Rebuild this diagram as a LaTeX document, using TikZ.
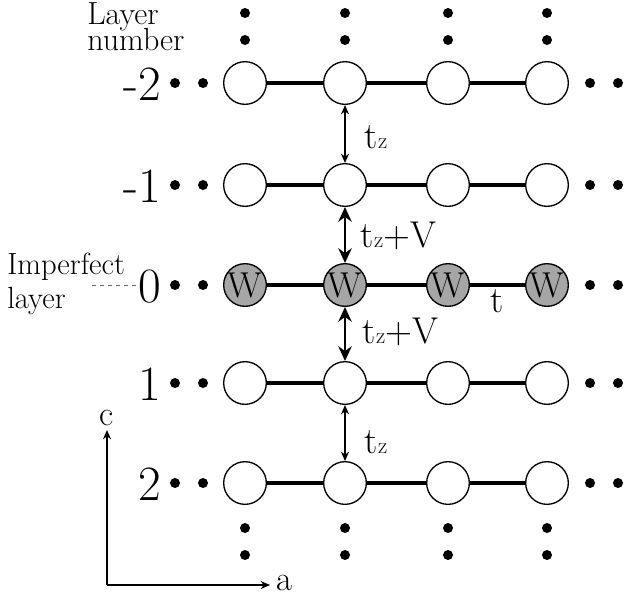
\documentclass[tikz,border=0pt]{standalone}
\usepackage{fontspec}
\usetikzlibrary{arrows.meta}
\newcommand{\tz}{t\kern0.5pt{\fontsize{17}{17}\selectfont z}}
\tikzset{
  site/.style={circle,draw,line width=1pt,minimum size=32pt,inner sep=0pt,fill=white},
  wsite/.style={site,fill=black!35,font=\fontsize{27}{27}\selectfont},
  bond/.style={line width=3pt},
  hop/.style={<->,>={Stealth[length=7pt,width=6pt]},line width=0.9pt},
  bighop/.style={<->,>={Stealth[length=11pt,width=10pt]},line width=2.2pt},
  lbl/.style={font=\fontsize{28}{28}\selectfont,inner sep=0pt},
  num/.style={font=\fontsize{37}{37}\selectfont,inner sep=0pt,anchor=base east},
  side/.style={inner sep=0pt,align=left,anchor=base west},
}
\begin{document}
\begin{tikzpicture}[x=0.75pt,y=-0.75pt]
  \useasboundingbox (0,0) rectangle (627,601);
  % lattice sites, rows -2..2
  \foreach \r/\y in {1/83,2/185,4/383,5/483}{
    \foreach \c/\x in {1/245,2/345,3/448,4/547}
      \node[site] (s\r\c) at (\x,\y) {};
  }
  \foreach \c/\x in {1/245,2/345,3/448,4/547}
    \node[wsite] (s3\c) at (\x,285) {W};
  \foreach \r in {1,...,5}{
    \draw[bond] (s\r1) -- (s\r2);
    \draw[bond] (s\r2) -- (s\r3);
    \draw[bond] (s\r3) -- (s\r4);
  }
  % dots
  \foreach \y in {83,185,285,383,483}{
    \fill (175,\y) circle[radius=5]; \fill (203,\y) circle[radius=5];
    \fill (590,\y) circle[radius=5]; \fill (618,\y) circle[radius=5];
  }
  \foreach \x in {245,345,448,547}{
    \fill (\x,13) circle[radius=5]; \fill (\x,40) circle[radius=5];
    \fill (\x,528) circle[radius=5]; \fill (\x,555) circle[radius=5];
  }
  % layer numbers
  \node[num] (n1) at (161,100) {-2};
  \node[num] (n2) at (161,202) {-1};
  \node[num] (n3) at (161,302) {0};
  \node[num] (n4) at (161,400) {1};
  \node[num] (n5) at (161,500) {2};
  \node[side,font={\fontsize{24}{19}\selectfont\lineskiplimit=-30pt}] (ln) at (87,50) {Layer\\number};
  \node[side,font={\fontsize{23}{25}\selectfont\lineskiplimit=-30pt}] (il) at (7,308) {Imperfect\\layer};
  \draw[black!60,dashed,line width=0.6pt] (92,285) -- (n3.west |- 0,285);
  % hoppings
  \draw[hop] (s12) -- (s22);
  \draw[bighop] (s22) -- (s32);
  \draw[bighop] (s32) -- (s42);
  \draw[hop] (s42) -- (s52);
  \node[lbl,anchor=base west] (h1) at (364,148) {\tz};
  \node[lbl,anchor=base west] (h2) at (360,247) {\tz+V};
  \node[lbl,anchor=base west] (h3) at (362,343) {\tz+V};
  \node[lbl,anchor=base west] (h4) at (364,453) {\tz};
  \node[lbl,anchor=base] (t) at (497,312) {t};
  % axes
  \coordinate (o) at (107,585);
  \coordinate (cax) at (107,430);
  \coordinate (aax) at (270,585);
  \draw[-{Stealth[length=7pt,width=6pt]},line width=0.9pt] (o) -- (cax);
  \draw[-{Stealth[length=7pt,width=6pt]},line width=0.9pt] (o) -- (aax);
  \node[lbl,font=\fontsize{26}{26}\selectfont] (c) at (107,418) {c};
  \node[lbl,font=\fontsize{26}{26}\selectfont] (a) at (284,583) {a};
\end{tikzpicture}
\end{document}
